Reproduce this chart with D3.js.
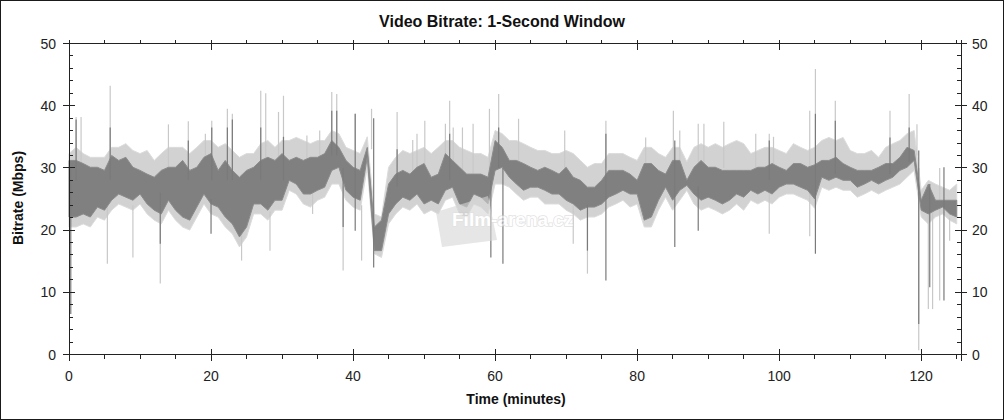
<!DOCTYPE html>
<html><head><meta charset="utf-8">
<script src="https://cdn.jsdelivr.net/npm/d3@7"></script>
<style>body{margin:0;background:#fff}svg{display:block}</style>
</head><body><svg id="c" width="1004" height="420"></svg>
<script>
// time grid: one sample per minute
const minutes = d3.range(0, 126);
const xTicks = [0, 20, 40, 60, 80, 100, 120];
const yTicks = [0, 10, 20, 30, 40, 50];

// dark series (average-ish) band per minute, Mbps
const darkHi = [31.2,31.2,30.7,30.1,30.1,29.6,32.0,31.2,31.7,30.1, 29.6,29.0,28.5,29.6,30.1,30.1,31.2,29.6,30.1,31.7,
 32.3,29.6,31.2,29.6,28.5,29.6,30.1,31.2,31.7,31.2, 32.3,31.2,31.7,31.2,31.7,31.7,32.3,34.4,33.3,31.2,
 30.1,29.6,33.3,20.5,21.6,27.4,29.0,29.6,29.0,30.1, 30.7,28.5,29.0,32.3,31.2,30.1,29.0,29.0,29.0,28.5,
 34.4,33.3,31.2,31.2,30.7,30.1,29.6,30.1,29.6,29.0, 30.1,28.5,28.0,26.9,26.9,28.0,29.6,29.6,29.6,29.0,
 28.0,30.7,30.7,29.6,29.0,31.2,31.2,28.0,30.1,31.2, 30.1,30.1,29.6,29.6,29.6,29.6,29.6,30.1,30.1,30.7,
 30.1,29.6,30.7,30.7,30.1,30.5,31.2,31.2,31.7,30.7, 30.1,29.6,29.6,29.6,30.1,30.7,30.7,31.7,33.3,32.8,
 24.8,27.4,24.8,24.8,24.8,24.8];
const darkLo = [22.1,22.1,22.6,22.1,23.7,23.2,24.8,25.8,25.3,24.8, 25.8,24.2,23.2,22.6,24.8,23.2,22.1,21.6,23.7,25.8,
 24.2,23.7,22.1,21.0,18.9,20.5,24.2,24.2,23.2,24.8, 24.8,28.0,27.4,25.8,25.8,26.4,26.9,29.6,30.1,26.4,
 25.3,24.8,31.7,16.7,16.7,22.6,24.2,25.3,24.8,25.8, 24.2,24.8,24.2,26.4,26.9,24.2,23.7,25.8,25.3,24.2,
 29.6,30.1,28.5,27.4,26.4,26.9,26.9,26.4,25.8,25.8, 24.8,24.2,23.2,23.7,23.7,24.2,25.3,25.8,26.4,25.8,
 25.8,21.6,22.1,24.8,26.9,24.8,26.4,27.2,25.8,24.8, 25.3,24.8,24.2,24.8,25.8,25.3,26.4,25.8,26.4,25.8,
 26.9,27.4,27.4,26.9,26.4,25.0,28.5,28.0,28.5,28.0, 28.0,26.9,27.4,28.0,27.4,28.0,28.5,29.6,30.1,31.2,
 23.2,22.6,23.2,23.7,22.6,22.1];
// light series (peak) band per minute, Mbps
const lightHi = [32.3,33.3,32.3,31.7,31.7,31.7,33.3,33.3,33.9,32.8, 32.3,32.8,31.2,32.3,33.3,33.3,33.3,32.3,33.3,34.4,
 34.4,33.3,33.9,32.8,31.7,32.3,32.3,33.9,34.4,33.3, 34.4,34.4,34.9,34.4,33.9,34.4,34.4,36.0,35.5,33.3,
 32.8,32.3,35.0,22.6,22.1,30.1,31.7,32.8,32.3,32.8, 33.3,32.3,33.3,34.4,34.4,33.3,32.8,32.3,32.3,31.7,
 36.0,35.5,34.4,34.4,33.9,33.3,32.8,32.8,32.3,32.3, 32.8,32.3,31.2,30.1,30.7,30.7,32.3,32.3,32.3,31.7,
 31.2,33.3,33.3,32.3,31.7,33.3,33.3,31.0,33.3,33.9, 33.3,33.9,33.3,33.9,34.4,33.9,32.3,32.8,33.3,33.3,
 32.8,32.3,33.9,33.3,32.8,33.3,34.4,34.9,34.4,34.9, 32.8,32.3,32.3,32.8,31.7,33.3,33.9,34.4,35.5,36.0,
 26.4,28.0,27.4,26.9,26.4,27.4];
const lightLo = [20.5,20.5,21.0,20.5,22.1,21.6,23.2,24.2,23.7,23.2, 24.2,22.6,21.6,21.0,23.2,21.6,20.5,20.0,22.1,24.2,
 22.6,22.1,20.5,19.4,17.3,18.9,22.6,22.6,21.6,23.2, 23.2,26.4,25.8,24.2,23.7,24.8,25.3,27.4,27.4,24.8,
 23.7,23.2,30.1,16.2,15.6,21.0,22.6,23.7,23.2,24.2, 22.6,23.2,22.6,24.8,25.3,22.6,22.1,24.2,23.7,22.6,
 27.4,27.4,26.9,25.8,24.8,25.3,25.3,24.2,24.2,24.2, 23.2,22.6,21.6,22.1,22.1,22.6,23.7,24.2,24.8,23.7,
 24.2,20.5,20.5,23.2,25.3,23.2,24.8,26.4,24.2,23.2, 23.7,23.2,22.6,23.2,24.2,23.2,24.8,24.2,24.8,24.2,
 25.3,25.8,25.8,25.3,24.8,23.5,26.9,26.4,26.9,26.4, 26.4,25.3,25.8,26.4,25.8,26.4,26.9,27.4,28.5,29.6,
 22.1,21.0,22.1,22.6,21.6,21.0];

// isolated spikes: [minute, low, high]
const lightSpikes = [[1.0,30,38.2],[1.7,30,38.2],[5.8,30,43.2],[5.4,14.6,25],[9.0,15.6,24],[12.85,11.4,25],
 [14.0,30,37],[16.8,30,37.5],[19.2,30,35.5],[20.1,30,37.6],[22.3,30,39.5],[23.0,30,38.7],[24.3,15.1,20],
 [27.0,30,42.4],[27.7,30,42],[28.3,16.7,23],[29.5,30,39],[30.2,30,41.6],[33.5,30,35.2],[34.3,22.6,26],
 [35.3,30,36],[37.0,32,42.2],[37.7,32,41.9],[38.6,13.5,27],[40.3,30,38.7],[41.2,15.1,24],[42.6,33,39.5],
 [46.2,28,39],[48.4,28,34.5],[49.0,28,35.5],[50.1,28,37.6],[53.0,30,37.1],[53.6,30,40.8],[54.1,30,36.5],
 [55.4,28,36.5],[56.9,28,37.1],[59.2,29,39.5],[60.5,32,41.9],[63.3,31,37.9],[69.8,29,36],[71.0,17.8,24],
 [73.0,13.0,23],[75.6,30,37.6],[81.2,30,34.9],[85.1,30,39.2],[86.0,30,36],[88.6,30,37.1],[89.4,30,37.1],
 [92.2,30,37.4],[96.7,30,35.5],[98.6,19.4,35.5],[99.2,30,35],[104.3,19,39.2],[105.1,28,45.9],[107.9,30,40.8],
 [115.6,30,39.2],[118.3,32,41.9],[119.4,32,37],[119.65,0.7,30],[121.0,7.3,26],[121.6,7.3,26],[122.6,8.7,30],[124.0,18.3,22]];
const darkSpikes = [[0.25,6.5,30],[1.0,28,37.8],[5.8,28,36.5],[12.85,17.8,26],[16.8,28,34.4],[20.1,28,36.5],
 [20.0,19.4,25],[22.3,28,36.5],[23.0,28,37.8],[27.0,28,36.5],[30.2,28,35],[37.0,32,39.2],[37.7,32,39.2],
 [38.6,20.5,30],[40.3,19.9,38.7],[42.9,14,38],[46.2,27,33],[53.6,28,35.5],[59.4,15.6,28],[60.5,30,36.5],
 [61.1,14.6,30],[73.0,16.7,24],[75.6,11.9,35.5],[85.3,17.3,34.4],[88.6,19.9,27],[98.6,28,34.4],[105.1,16.2,38.7],
 [107.9,29,37.6],[115.6,29,34.9],[118.3,31,36.5],[119.65,4.9,32.8],[121.2,10.8,27.4],[123.2,8.7,30.1]];

const svg = d3.select('#c');
const FONT = '"Liberation Sans", Arial, sans-serif';
const L = 69, R = 961, T = 43.5, B = 354.5;
const x = d3.scaleLinear().domain([0, 125.6]).range([L, R]);
const y = d3.scaleLinear().domain([0, 50]).range([B, T]);

svg.append('rect').attr('x',0.5).attr('y',0.5).attr('width',1003).attr('height',419)
  .attr('fill','#fff').attr('stroke','#1a1a1a');

const band = (hi, lo) => d3.area().x(i => x(minutes[i])).y0(i => y(lo[i])).y1(i => y(hi[i]));
const idx = minutes.map((d, i) => i);

const gData = svg.append('g');
gData.append('path').attr('d', band(lightHi, lightLo)(idx)).attr('fill','#d2d2d2')
  .attr('stroke','#dcdcdc').attr('stroke-width',1);
gData.selectAll('line.ls').data(lightSpikes).join('line').attr('class','ls')
  .attr('x1', d => x(d[0])).attr('x2', d => x(d[0]))
  .attr('y1', d => y(d[1])).attr('y2', d => y(d[2]))
  .attr('stroke','#c8c8c8').attr('stroke-width',1.2);
gData.append('path').attr('d', band(darkHi, darkLo)(idx)).attr('fill','#808080')
  .attr('stroke','#8c8c8c').attr('stroke-width',1);
gData.selectAll('line.ds').data(darkSpikes).join('line').attr('class','ds')
  .attr('x1', d => x(d[0])).attr('x2', d => x(d[0]))
  .attr('y1', d => y(d[1])).attr('y2', d => y(d[2]))
  .attr('stroke','#7a7a7a').attr('stroke-width',1.2);

// watermark
const wm = svg.append('g').attr('opacity',0.6);
wm.append('path').attr('d','M436,212 L488,196 L497,240 L442,247 Z').attr('fill','#d6d6d6');
wm.append('text').attr('x',452).attr('y',226).text('Film-arena.cz')
  .attr('font-family',FONT).attr('font-weight','bold').attr('font-size',19)
  .attr('fill','#fff').attr('stroke','#d0d0d0').attr('stroke-width',1.5).attr('paint-order','stroke');

// axes
const axisG = svg.append('g').attr('stroke','#222').attr('stroke-width',1).attr('shape-rendering','crispEdges');
axisG.append('line').attr('x1',L-6).attr('x2',R+6).attr('y1',B).attr('y2',B);
axisG.append('line').attr('x1',L-6).attr('x2',R+6).attr('y1',T).attr('y2',T);
axisG.append('line').attr('x1',L).attr('x2',L).attr('y1',T-4).attr('y2',B+6);
axisG.append('line').attr('x1',R).attr('x2',R).attr('y1',T-4).attr('y2',B+6);
const minorX = d3.range(0, 126, 5).filter(v => v % 20 !== 0);
minorX.forEach(v => {
  axisG.append('line').attr('x1',x(v)).attr('x2',x(v)).attr('y1',B).attr('y2',B+4);
  axisG.append('line').attr('x1',x(v)).attr('x2',x(v)).attr('y1',T-4).attr('y2',T);
});
xTicks.forEach(v => {
  axisG.append('line').attr('x1',x(v)).attr('x2',x(v)).attr('y1',B-6).attr('y2',B+6);
  axisG.append('line').attr('x1',x(v)).attr('x2',x(v)).attr('y1',T-4).attr('y2',T+6);
});
const minorY = d3.range(0, 51, 2).filter(v => v % 10 !== 0);
minorY.forEach(v => {
  axisG.append('line').attr('x1',L).attr('x2',L+4).attr('y1',y(v)).attr('y2',y(v));
  axisG.append('line').attr('x1',R-4).attr('x2',R).attr('y1',y(v)).attr('y2',y(v));
});
yTicks.forEach(v => {
  axisG.append('line').attr('x1',L-6).attr('x2',L+6).attr('y1',y(v)).attr('y2',y(v));
  axisG.append('line').attr('x1',R-6).attr('x2',R+6).attr('y1',y(v)).attr('y2',y(v));
});

const txt = svg.append('g').attr('font-family',FONT).attr('fill','#222');
txt.selectAll('text.xl').data(xTicks).join('text').attr('class','xl')
  .attr('x', d => x(d)).attr('y', 381).attr('text-anchor','middle').attr('font-size',14).text(d => d);
txt.selectAll('text.yl').data(yTicks).join('text').attr('class','yl')
  .attr('x', 56).attr('y', d => y(d) + 5).attr('text-anchor','end').attr('font-size',14).text(d => d);
txt.selectAll('text.yr').data(yTicks).join('text').attr('class','yr')
  .attr('x', 972).attr('y', d => y(d) + 5).attr('text-anchor','start').attr('font-size',14).text(d => d);

svg.append('text').attr('x',502).attr('y',27).attr('text-anchor','middle')
  .attr('font-family',FONT).attr('font-weight','bold').attr('font-size',16).attr('fill','#111')
  .text('Video Bitrate: 1-Second Window');
svg.append('text').attr('x',516).attr('y',404).attr('text-anchor','middle')
  .attr('font-family',FONT).attr('font-weight','bold').attr('font-size',14).attr('fill','#111')
  .text('Time (minutes)');
svg.append('text').attr('transform','translate(23,198) rotate(-90)').attr('text-anchor','middle')
  .attr('font-family',FONT).attr('font-weight','bold').attr('font-size',14).attr('fill','#111')
  .text('Bitrate (Mbps)');
</script></body></html>
